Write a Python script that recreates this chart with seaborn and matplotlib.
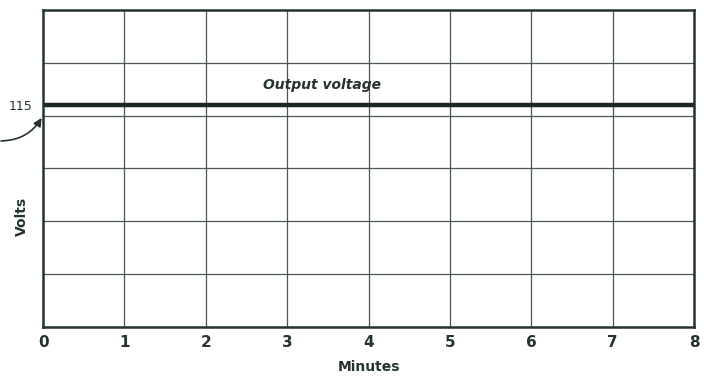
import seaborn as sns
import matplotlib.pyplot as plt
import pandas as pd

# chart values
minutes = [0, 1, 2, 3, 4, 5, 6, 7, 8]
output_volts = [115, 115, 115, 115, 115, 115, 115, 115, 115]
grid_volts = [94, 99, 104, 109, 114, 119, 124]
label_volts = 115

ink = "#25332f"

sns.set_theme(style="white")
plt.rcParams["font.family"] = ["DejaVu Sans"]

df = pd.DataFrame({"Minutes": minutes, "Volts": output_volts})

fig = plt.figure(figsize=(7.06, 3.78), dpi=100)
ax = fig.add_axes([0.061, 0.135, 0.922, 0.839])

sns.lineplot(data=df, x="Minutes", y="Volts", ax=ax, color="#1c2623", linewidth=3.2)

ax.set_xlim(0, 8)
ax.set_ylim(grid_volts[0], grid_volts[-1])
ax.set_xticks(minutes)
ax.set_xticklabels(["0", "1", "2", "3", "4", "5", "6", "7", "8"],
                   fontsize=11, fontweight="bold", color=ink)
ax.set_yticks(grid_volts, minor=True)
ax.set_yticks([label_volts])
ax.set_yticklabels(["115"], fontsize=9, color=ink)
ax.tick_params(axis="both", which="both", length=0, pad=6)
ax.tick_params(axis="y", pad=8)

for x in minutes[1:-1]:
    ax.axvline(x, color="#4a5753", linewidth=0.9, zorder=0)
for y in grid_volts[1:-1]:
    ax.axhline(y, color="#4a5753", linewidth=0.9, zorder=0)

for sp in ax.spines.values():
    sp.set_visible(True)
    sp.set_color(ink)
    sp.set_linewidth(1.8)

ax.set_xlabel("Minutes", fontsize=10, fontweight="bold", color=ink)
ax.xaxis.set_label_coords(0.5, -0.105)
ax.set_ylabel("Volts", fontsize=10, fontweight="bold", color=ink)
ax.yaxis.set_label_coords(-0.022, 0.35)

ax.text(3.43, 116.9, "Output voltage", fontsize=10, fontweight="bold",
        style="italic", color=ink, ha="center", va="center")

ax.annotate("", xy=(0.0, 114.0), xytext=(-0.55, 111.6),
            arrowprops=dict(arrowstyle="-|>", color=ink, lw=1.2,
                            connectionstyle="arc3,rad=0.3"),
            annotation_clip=False)

plt.savefig("out.png", dpi=100)
